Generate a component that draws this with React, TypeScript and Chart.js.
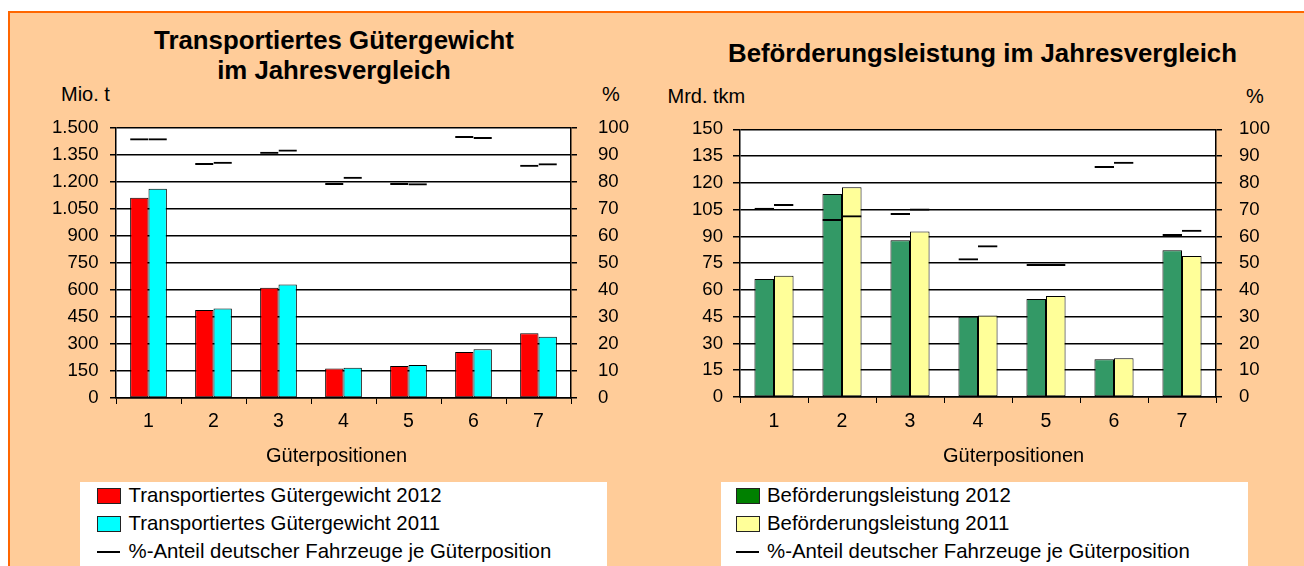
import React, { useEffect, useRef } from 'react';
import { Chart, registerables } from 'chart.js';

Chart.register(...registerables);

// ---------- data ----------
const categories = ['1', '2', '3', '4', '5', '6', '7'];

const weight2012 = [1110, 488, 612, 163, 178, 255, 359];
const weight2011 = [1161, 496, 629, 168, 183, 270, 340];
const weightShare2012 = [96, 86.9, 91.0, 79.5, 79.5, 96.9, 86.2];
const weightShare2011 = [96, 87.3, 91.9, 81.8, 79.4, 96.5, 86.8];

const perf2012 = [66.1, 113.8, 87.8, 45.0, 54.9, 21.1, 82.2];
const perf2011 = [68.0, 117.5, 92.8, 45.6, 56.6, 21.7, 79.0];
const perfShare2012 = [70.7, 66.5, 68.7, 51.8, 49.7, 86.3, 60.9];
const perfShare2011 = [72.1, 67.9, 70.4, 56.7, 49.7, 87.9, 62.5];

const weightAxis = { min: 0, max: 1500, step: 150 };
const perfAxis = { min: 0, max: 150, step: 15 };
const shareAxis = { min: 0, max: 100, step: 10 };

const weightLegend = [
  'Transportiertes Gütergewicht 2012',
  'Transportiertes Gütergewicht 2011',
  '%-Anteil deutscher Fahrzeuge je Güterposition',
];
const perfLegend = [
  'Beförderungsleistung 2012',
  'Beförderungsleistung 2011',
  '%-Anteil deutscher Fahrzeuge je Güterposition',
];

const FONT = "'Liberation Sans', Arial, sans-serif";

const fmtThousands = (v: number) => {
  const n = Math.round(v);
  if (n >= 1000) return Math.floor(n / 1000) + '.' + String(n % 1000).padStart(3, '0');
  return String(n);
};

const plotBg = {
  id: 'plotBg',
  beforeDraw(chart: any) {
    const { ctx, chartArea: a } = chart;
    ctx.save();
    ctx.fillStyle = '#ffffff';
    ctx.fillRect(a.left, a.top, a.right - a.left, a.bottom - a.top);
    ctx.restore();
  },
};

type Geo = {
  width: number; height: number; padTop: number; yW: number; y1W: number; xH: number;
  yTick: number; yPad: number; y1Pad: number; xPad: number; catPct: number;
};

function ComboChart(props: {
  geo: Geo; left: number; top: number;
  bars: number[][]; shares: number[][]; colors: string[]; labels: string[];
  axis: { min: number; max: number; step: number };
}) {
  const ref = useRef<HTMLCanvasElement>(null);
  const { geo } = props;
  useEffect(() => {
    if (!ref.current) return;
    const yFont = { family: FONT, size: 18.6 };
    const xFont = { family: FONT, size: 19.5 };
    const shareDs = props.shares.map((d, i) => ({
      type: 'bar' as const,
      label: props.labels[2],
      data: d,
      yAxisID: 'y1',
      stack: i === 0 ? 'a' : 'b',
      backgroundColor: 'rgba(0,0,0,0)',
      borderColor: '#000',
      borderWidth: { top: 2, left: 0, right: 0, bottom: 0 },
      borderSkipped: false,
      order: 0,
    }));
    const barDs = props.bars.map((d, i) => ({
      type: 'bar' as const,
      label: props.labels[i],
      data: d,
      yAxisID: 'y',
      stack: i === 0 ? 'a' : 'b',
      backgroundColor: props.colors[i],
      borderColor: '#000',
      borderWidth: 1,
      borderSkipped: false,
      order: 1,
    }));
    const chart = new Chart(ref.current, {
      type: 'bar',
      data: { labels: categories, datasets: [...shareDs, ...barDs] as any },
      plugins: [plotBg],
      options: {
        responsive: false,
        animation: false,
        events: [],
        layout: { padding: { top: geo.padTop, left: 0, right: 0, bottom: 0 } },
        datasets: { bar: { categoryPercentage: geo.catPct, barPercentage: 1 } },
        plugins: { legend: { display: false }, title: { display: false }, tooltip: { enabled: false } },
        scales: {
          x: {
            offset: true,
            grid: { offset: true, drawOnChartArea: false, drawTicks: true, tickLength: 6, color: '#000', lineWidth: 1 },
            border: { display: true, color: '#000', width: 1.5 },
            ticks: { color: '#000', font: xFont, padding: geo.xPad, maxRotation: 0, autoSkip: false },
            afterFit: (s: any) => { s.height = geo.xH; },
          },
          y: {
            position: 'left',
            stacked: false,
            min: props.axis.min,
            max: props.axis.max,
            ticks: { stepSize: props.axis.step, autoSkip: false, color: '#000', font: yFont, padding: geo.yPad, callback: (v: any) => fmtThousands(Number(v)) },
            grid: { color: '#000', lineWidth: 1.5, tickLength: geo.yTick },
            border: { display: true, color: '#000', width: 1.5 },
            afterFit: (s: any) => { s.width = geo.yW; },
          },
          y1: {
            position: 'right',
            stacked: false,
            min: shareAxis.min,
            max: shareAxis.max,
            ticks: { stepSize: shareAxis.step, autoSkip: false, color: '#000', font: yFont, padding: geo.y1Pad },
            grid: { drawOnChartArea: false, color: '#000', lineWidth: 1.5, tickLength: 6 },
            border: { display: true, color: '#000', width: 1.5 },
            afterFit: (s: any) => { s.width = geo.y1W; },
          },
        },
      } as any,
    });
    return () => chart.destroy();
  }, []);
  return (
    <canvas
      ref={ref}
      width={geo.width}
      height={geo.height}
      style={{ position: 'absolute', left: props.left, top: props.top, width: geo.width, height: geo.height }}
    />
  );
}

function Legend(props: { left: number; swatchLeft: number; textLeft: number; labels: string[]; colors: string[] }) {
  const rowTop = 481;
  return (
    <>
      <div style={{ position: 'absolute', left: props.left, top: 482, width: 527, height: 120, background: '#fff' }} />
      {props.labels.map((lab, i) => (
        <React.Fragment key={i}>
          {i < 2 ? (
            <div style={{
              position: 'absolute', left: props.swatchLeft, top: rowTop + i * 28 + 7, width: 22, height: 14,
              background: props.colors[i], border: '1px solid #222',
            }} />
          ) : (
            <div style={{ position: 'absolute', left: props.swatchLeft, top: rowTop + i * 28 + 14, width: 23, height: 2, background: '#000' }} />
          )}
          <div style={{
            position: 'absolute', left: props.textLeft, top: rowTop + i * 28, lineHeight: '28px',
            fontSize: 20.4, fontFamily: FONT, color: '#000', whiteSpace: 'nowrap',
          }}>{lab}</div>
        </React.Fragment>
      ))}
    </>
  );
}

const textStyle = (left: number, top: number, size: number, bold = false): React.CSSProperties => ({
  position: 'absolute', left, top, fontSize: size, lineHeight: bold ? '29.5px' : '24px',
  fontFamily: FONT, fontWeight: bold ? 'bold' : 'normal', color: '#000', whiteSpace: 'nowrap',
});

export default function App() {
  const leftGeo: Geo = { width: 640, height: 440, padTop: 114.5, yW: 106, y1W: 79, xH: 55, yTick: 6, yPad: 11.5, y1Pad: 21, xPad: 5.5, catPct: 0.565 };
  const rightGeo: Geo = { width: 654, height: 440, padTop: 116.3, yW: 90, y1W: 88, xH: 56, yTick: 7, yPad: 10, y1Pad: 17, xPad: 6.5, catPct: 0.575 };
  return (
    <div style={{ position: 'fixed', left: 0, top: 0, width: 1304, height: 566, background: '#fff', overflow: 'hidden' }}>
      <div style={{
        position: 'absolute', left: 8, top: 11, right: 0, bottom: 0, boxSizing: 'border-box',
        background: '#FFCC99', borderTop: '2px solid #FF6600', borderLeft: '2px solid #FF6600',
      }} />
      {/* titles */}
      <div style={{ ...textStyle(34, 26.3, 25.8, true), width: 600, textAlign: 'center' }}>
        Transportiertes Gütergewicht<br />im Jahresvergleich
      </div>
      <div style={{ ...textStyle(682.5, 39, 25.8, true), width: 600, textAlign: 'center' }}>
        Beförderungsleistung im Jahresvergleich
      </div>
      {/* unit labels */}
      <div style={textStyle(61, 82, 20)}>Mio. t</div>
      <div style={textStyle(602, 82, 20)}>%</div>
      <div style={textStyle(667.5, 83.5, 20)}>Mrd. tkm</div>
      <div style={textStyle(1246, 83.5, 20)}>%</div>

      <ComboChart geo={leftGeo} left={10} top={13}
        bars={[weight2012, weight2011]} shares={[weightShare2012, weightShare2011]}
        colors={['#FF0000', '#00FFFF']} labels={weightLegend} axis={weightAxis} />
      <ComboChart geo={rightGeo} left={650} top={13}
        bars={[perf2012, perf2011]} shares={[perfShare2012, perfShare2011]}
        colors={['#339966', '#FFFF99']} labels={perfLegend} axis={perfAxis} />

      {/* x axis titles */}
      <div style={textStyle(266, 443, 20)}>Güterpositionen</div>
      <div style={textStyle(943, 443, 20)}>Güterpositionen</div>

      <Legend left={80} swatchLeft={97} textLeft={128.5} labels={weightLegend} colors={['#FF0000', '#00FFFF']} />
      <Legend left={721} swatchLeft={736} textLeft={767} labels={perfLegend} colors={['#008000', '#FFFF99']} />
    </div>
  );
}
